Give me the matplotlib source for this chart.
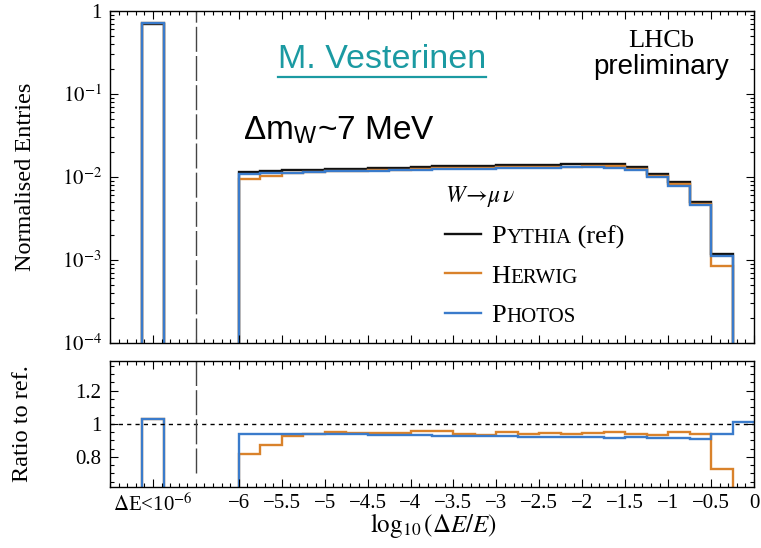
import numpy as np
import matplotlib
matplotlib.use("Agg")
import matplotlib.pyplot as plt
from matplotlib.ticker import FixedLocator, FixedFormatter, MultipleLocator, LogLocator, NullFormatter
from matplotlib.lines import Line2D

# ---------------- data ----------------
bin_edges = [-7.5, -7.125, -6.875, -6.0, -5.75, -5.5, -5.25, -5.0, -4.75, -4.5, -4.25,
             -4.0, -3.75, -3.5, -3.25, -3.0, -2.75, -2.5, -2.25, -2.0, -1.75, -1.5,
             -1.25, -1.0, -0.75, -0.5, -0.25, 0.0]

pythia_ref = [0.0, 0.70, 0.0,
              0.0116, 0.0118, 0.0120, 0.0122, 0.0124, 0.0126, 0.0128, 0.0130,
              0.0132, 0.0134, 0.0136, 0.0137, 0.0139, 0.0140, 0.0141, 0.0142,
              0.0143, 0.0142, 0.0133, 0.0109, 0.0086, 0.0050, 0.00118, 0.00003]

ratio_herwig = [0.0, 1.03, 0.0,
                0.815, 0.874, 0.924, 0.940, 0.950, 0.944, 0.946, 0.946,
                0.956, 0.954, 0.936, 0.934, 0.950, 0.936, 0.946, 0.936,
                0.944, 0.950, 0.936, 0.932, 0.948, 0.940, 0.726, 0.0]

ratio_photos = [0.0, 1.03, 0.0,
                0.940, 0.940, 0.936, 0.940, 0.940, 0.936, 0.932, 0.930,
                0.930, 0.926, 0.926, 0.924, 0.924, 0.922, 0.922, 0.920,
                0.920, 0.916, 0.918, 0.912, 0.914, 0.910, 0.940, 1.010]

series_caps = ["P", "H", "P"]
series_rest = ["YTHIA", "ERWIG", "HOTOS"]
series_tail = [" (ref)", "", ""]

xtick_positions = [-7, -6, -5.5, -5, -4.5, -4, -3.5, -3, -2.5, -2, -1.5, -1, -0.5, 0]
xtick_labels = ["$\\Delta$E<10$^{-6}$", "\u22126", "\u22125.5", "\u22125", "\u22124.5", "\u22124",
                "\u22123.5", "\u22123", "\u22122.5", "\u22122", "\u22121.5", "\u22121", "\u22120.5", "0"]
ytick_values = [1e-4, 1e-3, 1e-2, 1e-1, 1.0]
ytick_labels = ["$10^{-4}$", "$10^{-3}$", "$10^{-2}$", "$10^{-1}$", "1"]
ratio_ticks = [0.8, 1.0, 1.2]
ratio_tick_labels = ["0.8", "1", "1.2"]

# ---------------- style ----------------
plt.rcParams['font.family'] = ['Liberation Serif', 'DejaVu Serif']
plt.rcParams['mathtext.fontset'] = 'stix'

C_REF = '#111111'
C_HER = '#d9822b'
C_PHO = '#3a7bcb'
C_TEAL = '#1b9aa2'
LW = 1.7

W, H = 761, 548
fig = plt.figure(figsize=(W / 100, H / 100), dpi=100)

def fx(px):
    return px / W

def fy(py):
    return 1 - py / H

ax1 = fig.add_axes([fx(110), fy(343), fx(754) - fx(110), fy(11) - fy(343)])
ax2 = fig.add_axes([fx(110), fy(486.7), fx(754) - fx(110), fy(360.7) - fy(486.7)])

edges = np.array(bin_edges)
ref = np.array(pythia_ref)
rh = np.array(ratio_herwig)
rp = np.array(ratio_photos)
herwig = ref * rh
photos = ref * rp

# top panel
ax1.set_yscale('log', nonpositive='clip')
ax1.stairs(ref, edges, baseline=None, color=C_REF, lw=LW)
ax1.stairs(herwig, edges, baseline=None, color=C_HER, lw=LW)
ax1.stairs(photos, edges, baseline=None, color=C_PHO, lw=LW)
ax1.set_xlim(-7.5, 0)
ax1.set_ylim(1e-4, 1.0)
ax1.axvline(-6.5, color='#444444', lw=1.0, dashes=(18, 3))

# ratio panel
ax2.stairs(rh, edges, baseline=None, color=C_HER, lw=LW)
ax2.stairs(rp, edges, baseline=None, color=C_PHO, lw=LW)
ax2.axhline(1.0, color='black', lw=1.0, dashes=(3, 3))
ax2.axvline(-6.5, ymin=0.11, color='#444444', lw=1.0, dashes=(18, 3))
ax2.set_xlim(-7.5, 0)
ax2.set_ylim(0.62, 1.38)

for ax in (ax1, ax2):
    ax.xaxis.set_major_locator(FixedLocator(xtick_positions))
    ax.xaxis.set_minor_locator(MultipleLocator(0.1))
    ax.tick_params(which='both', direction='in', top=True, right=True, labelsize=15, width=0.8)
    ax.tick_params(which='major', length=6, pad=6)
    ax.tick_params(which='minor', length=3)
    for s in ax.spines.values():
        s.set_linewidth(1.0)

ax1.yaxis.set_major_locator(FixedLocator(ytick_values))
ax1.yaxis.set_major_formatter(FixedFormatter(ytick_labels))
ax1.yaxis.set_minor_locator(LogLocator(base=10, subs=np.arange(2, 10)))
ax1.yaxis.set_minor_formatter(NullFormatter())
ax1.tick_params(axis='x', labelbottom=False)

ax2.xaxis.set_major_formatter(FixedFormatter(xtick_labels))
ax2.yaxis.set_major_locator(FixedLocator(ratio_ticks))
ax2.yaxis.set_major_formatter(FixedFormatter(ratio_tick_labels))
ax2.yaxis.set_minor_locator(MultipleLocator(0.05))
ax2.tick_params(axis='x', which='major', pad=5)

ax1.set_ylabel('Normalised Entries', fontsize=17.5)
ax1.yaxis.set_label_coords(-0.115, 0.5)
ax2.set_ylabel('Ratio to ref.', fontsize=17.5)
ax2.yaxis.set_label_coords(-0.12, 0.5)
ax2.set_xlabel('$\\log_{10}(\\Delta E/E)$', fontsize=18)
ax2.xaxis.set_label_coords(0.503, -0.195)

# annotations
t_mv = fig.text(fx(382), fy(68), 'M. Vesterinen', color=C_TEAL, fontsize=24.5,
                family=['Liberation Sans'], ha='center', va='baseline')
fig.text(fx(243), fy(140), '\u0394m$_\\mathregular{W}$~7 MeV', color='black', fontsize=24,
         family=['Liberation Sans', 'DejaVu Sans'], ha='left', va='baseline')
fig.text(fx(661), fy(47), 'LHCb', fontsize=19, ha='center', va='baseline')
fig.text(fx(661), fy(74), 'preliminary', fontsize=20, family=['Liberation Sans'],
         ha='center', va='baseline')

# legend
handles = [Line2D([], [], color=c, lw=LW) for c in (C_REF, C_HER, C_PHO)]
leg = ax1.legend(handles, series_caps, loc='upper left',
                 bbox_to_anchor=(fx(445), fy(184)), bbox_transform=fig.transFigure,
                 frameon=False, fontsize=19, title='$W\\!\\rightarrow\\!\\mu\\,\\nu$',
                 title_fontsize=17, alignment='left', borderpad=0, borderaxespad=0,
                 handlelength=1.35, handletextpad=0.42, labelspacing=0.6)

fig.canvas.draw()
renderer = fig.canvas.get_renderer()
for t, rest, tail in zip(leg.get_texts(), series_rest, series_tail):
    bb = t.get_window_extent(renderer)
    bx, by = t.get_transform().transform(t.get_position())
    t2 = fig.text(bb.x1 / W, by / H, rest, fontsize=15, ha='left', va='baseline')
    if tail:
        fig.canvas.draw()
        bb2 = t2.get_window_extent(renderer)
        fig.text(bb2.x1 / W, by / H, tail, fontsize=19, ha='left', va='baseline')

bbm = t_mv.get_window_extent(renderer)
fig.add_artist(Line2D([bbm.x0 / W, bbm.x1 / W], [fy(77), fy(77)], color=C_TEAL, lw=1.6,
                      transform=fig.transFigure))

fig.savefig('out.png', dpi=100)
